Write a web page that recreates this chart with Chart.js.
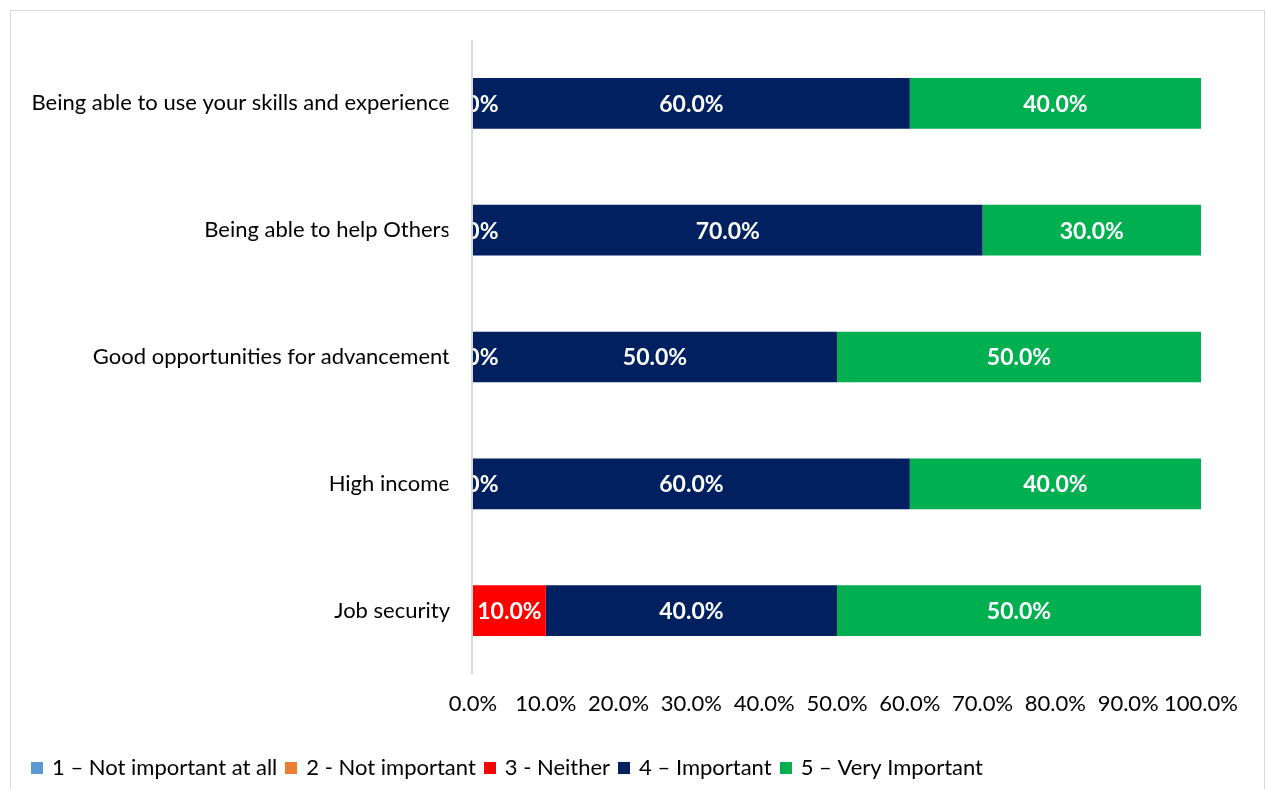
<!DOCTYPE html>
<html>
<head>
<meta charset="utf-8">
<script src="https://cdn.jsdelivr.net/npm/chart.js@4/dist/chart.umd.min.js"></script>
<style>
  html, body { margin: 0; padding: 0; background: #fff; }
  #wrap { position: relative; width: 1266px; height: 789px; }
</style>
</head>
<body>
<div id="wrap"><canvas id="c" width="1266" height="789"></canvas></div>
<script>
// Survey items, top to bottom
const categories = [
  'Being able to use your skills and experience',
  'Being able to help Others',
  'Good opportunities for advancement',
  'High income',
  'Job security'
];

// Share of respondents per rating (%)
const notImportantAtAll = [0, 0, 0, 0, 0];
const notImportant      = [0, 0, 0, 0, 0];
const neither           = [0, 0, 0, 0, 10];
const important         = [60, 70, 50, 60, 40];
const veryImportant     = [40, 30, 50, 40, 50];

const seriesNames = [
  '1 \u2013 Not important at all',
  '2 - Not important',
  '3 - Neither',
  '4 \u2013 Important',
  '5 \u2013 Very Important'
];
const seriesColors = ['#5B9BD5', '#ED7D31', '#FF0000', '#002060', '#00B050'];
const seriesValues = [notImportantAtAll, notImportant, neither, important, veryImportant];
// Only the last three ratings carry value labels
const labelledSeries = [2, 3, 4];

const xTicks = [0, 10, 20, 30, 40, 50, 60, 70, 80, 90, 100];

const FONT = 'Lato, "Open Sans", "Liberation Sans", sans-serif';

// Small square swatch used as the legend marker
function swatch(color) {
  const c = document.createElement('canvas');
  c.width = 12; c.height = 12;
  const g = c.getContext('2d');
  g.fillStyle = color;
  g.fillRect(0, 0, 12, 12);
  return c;
}

const frame = {
  id: 'frame',
  beforeDraw(chart) {
    const ctx = chart.ctx;
    ctx.save();
    ctx.fillStyle = '#fff';
    ctx.fillRect(0, 0, chart.width, chart.height);
    ctx.strokeStyle = '#D9D9D9';
    ctx.lineWidth = 1;
    ctx.strokeRect(10.5, 10.5, 1254, 800);
    ctx.restore();
  }
};

const valueLabels = {
  id: 'valueLabels',
  afterDatasetsDraw(chart) {
    const ctx = chart.ctx;
    ctx.save();
    ctx.font = 'bold 23px ' + FONT;
    ctx.fillStyle = '#fff';
    ctx.textAlign = 'center';
    ctx.textBaseline = 'middle';
    labelledSeries.forEach(di => {
      const meta = chart.getDatasetMeta(di);
      meta.data.forEach((bar, i) => {
        const v = chart.data.datasets[di].data[i];
        const cx = (bar.x + bar.base) / 2;
        ctx.fillText(v.toFixed(1) + '%', cx, bar.y + 1);
      });
    });
    // vertical category axis line
    const a = chart.chartArea;
    ctx.strokeStyle = '#D9D9D9';
    ctx.lineWidth = 2;
    ctx.beginPath();
    ctx.moveTo(a.left - 1, a.top);
    ctx.lineTo(a.left - 1, a.bottom);
    ctx.stroke();
    ctx.restore();
  }
};

new Chart(document.getElementById('c'), {
  type: 'bar',
  data: {
    labels: categories,
    datasets: seriesValues.map((vals, i) => ({
      label: seriesNames[i],
      data: vals,
      backgroundColor: seriesColors[i],
      pointStyle: swatch(seriesColors[i]),
      borderWidth: 0,
      categoryPercentage: 1,
      barPercentage: 0.4
    }))
  },
  options: {
    indexAxis: 'y',
    responsive: false,
    animation: false,
    devicePixelRatio: 1,
    layout: { padding: { left: 23, right: 65, top: 40, bottom: 0 } },
    scales: {
      x: {
        stacked: true,
        min: 0,
        max: 100,
        afterBuildTicks(scale) { scale.ticks = xTicks.map(v => ({ value: v })); },
        afterFit(scale) { scale.height = 73; },
        grid: { display: false },
        border: { display: false },
        ticks: {
          padding: 9,
          color: '#000',
          font: { family: FONT, size: 22 },
          callback: v => v.toFixed(1) + '%',
          maxRotation: 0,
          autoSkip: false
        }
      },
      y: {
        stacked: true,
        afterFit(scale) { scale.width = 450; },
        grid: { display: false },
        border: { display: false },
        ticks: {
          padding: 15,
          color: '#000',
          font: { family: FONT, size: 22 }
        }
      }
    },
    plugins: {
      legend: {
        position: 'bottom',
        align: 'start',
        labels: {
          usePointStyle: true,
          pointStyleWidth: 8,
          boxHeight: 12,
          padding: 10,
          color: '#000',
          font: { family: FONT, size: 22 }
        }
      },
      tooltip: { enabled: false }
    }
  },
  plugins: [frame, valueLabels]
});
</script>
</body>
</html>
